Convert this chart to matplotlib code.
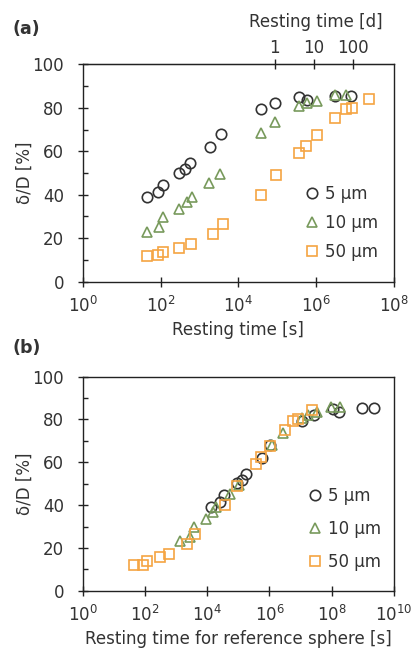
import numpy as np
import matplotlib
matplotlib.use("Agg")
import matplotlib.pyplot as plt
from matplotlib import ticker

# ---------------- data ----------------
sizes = ["5 µm", "10 µm", "50 µm"]

# panel (a): resting time [s] and delta/D [%]
t_5 = [44, 88, 118, 304, 427, 573, 1870, 3550, 37600, 87900, 3.7e5, 5.7e5, 3.06e6, 7.8e6]
v_5 = [39.1, 41.4, 44.5, 50.1, 51.7, 54.5, 62.1, 67.9, 79.3, 82.3, 85.1, 83.6, 85.4, 85.4]

t_10 = [44, 93, 118, 300, 490, 630, 1780, 3400, 37600, 87900, 3.7e5, 5.7e5, 1.07e6, 3.06e6, 5.9e6]
v_10 = [23.0, 25.3, 29.9, 33.3, 36.8, 39.1, 45.3, 49.5, 68.3, 73.6, 80.8, 82.3, 83.3, 85.7, 86.0]

t_50 = [44, 88, 118, 300, 600, 2200, 4000, 37600, 93000, 3.7e5, 5.5e5, 1.07e6, 3.06e6, 5.75e6, 8.5e6, 2.3e7]
v_50 = [11.8, 12.1, 13.8, 15.6, 17.2, 21.8, 26.5, 39.9, 49.1, 59.3, 62.6, 67.5, 75.2, 79.3, 80.0, 84.2]

# time-scaling factors to the reference sphere (panel b)
ref_factor = [300, 31, 1]

day_ticks = [1, 10, 100]
xticks_a = [1e0, 1e2, 1e4, 1e6, 1e8]
xticks_b = [1e0, 1e2, 1e4, 1e6, 1e8, 1e10]
yticks = [0, 20, 40, 60, 80, 100]

# ---------------- style ----------------
colors = ["#333333", "#789a5c", "#f5a442"]
markers = ["o", "^", "s"]
txt = "#333333"
plt.rcParams["font.family"] = ["DejaVu Sans"]
plt.rcParams["font.size"] = 12
plt.rcParams["text.color"] = txt
plt.rcParams["axes.labelcolor"] = txt
plt.rcParams["xtick.color"] = "#222222"
plt.rcParams["ytick.color"] = "#222222"
plt.rcParams["xtick.labelcolor"] = txt
plt.rcParams["ytick.labelcolor"] = txt

fig = plt.figure(figsize=(4.2, 6.48), dpi=100)
axa = fig.add_axes([0.197, 0.5653, 0.741, 0.3355])
axb = fig.add_axes([0.197, 0.0884, 0.741, 0.3303])

fmt = ticker.FuncFormatter(lambda v, p: r"$10^{%d}$" % int(round(np.log10(v))))

def style(ax, xt, xmax):
    ax.set_xscale("log")
    ax.set_xlim(1, xmax)
    ax.set_ylim(0, 100)
    ax.xaxis.set_major_locator(ticker.FixedLocator(xt))
    ax.xaxis.set_major_formatter(fmt)
    ax.xaxis.set_minor_locator(ticker.NullLocator())
    ax.yaxis.set_major_locator(ticker.FixedLocator(yticks))
    ax.yaxis.set_minor_locator(ticker.FixedLocator([10, 30, 50, 70, 90]))
    ax.tick_params(which="major", direction="inout", length=7, width=1.0, labelsize=12)
    ax.tick_params(axis="y", which="major", pad=10)
    ax.tick_params(axis="x", which="major", pad=7)
    ax.tick_params(which="minor", direction="in", length=3.5, width=1.0)
    for s in ax.spines.values():
        s.set_linewidth(1.0)
        s.set_color("#222222")
    ax.set_ylabel("δ/D [%]", fontsize=12, labelpad=-1)

style(axa, xticks_a, 1e8)
style(axb, xticks_b, 1e10)

ts = [t_5, t_10, t_50]
vs = [v_5, v_10, v_50]
for i in range(3):
    axa.plot(ts[i], vs[i], linestyle="none", marker=markers[i], markersize=7.5,
             markerfacecolor="none", markeredgecolor=colors[i], markeredgewidth=1.2,
             label=sizes[i])
    tref = np.array(ts[i]) * ref_factor[i]
    axb.plot(tref, vs[i], linestyle="none", marker=markers[i], markersize=7.5,
             markerfacecolor="none", markeredgecolor=colors[i], markeredgewidth=1.2,
             label=sizes[i])

for ax, anchor, ls in [(axa, (0.709, 0.27), 0.68), (axb, (0.719, 0.29), 0.9)]:
    ax.legend(loc="center left", bbox_to_anchor=anchor, frameon=False, fontsize=12,
              handlelength=1.0, handletextpad=0.3, borderpad=0, borderaxespad=0,
              labelspacing=ls, numpoints=1)

axa.set_xlabel("Resting time [s]", fontsize=12, labelpad=3)
axb.set_xlabel("Resting time for reference sphere [s]", fontsize=12, labelpad=3)

sec = axa.secondary_xaxis("top", functions=(lambda s: s / 86400.0, lambda d: d * 86400.0))
sec.xaxis.set_major_locator(ticker.FixedLocator(day_ticks))
sec.xaxis.set_major_formatter(ticker.FixedFormatter([str(d) for d in day_ticks]))
sec.xaxis.set_minor_locator(ticker.NullLocator())
sec.tick_params(which="major", direction="inout", length=7, width=1.0, labelsize=12, pad=2)
sec.set_xlabel("Resting time [d]", fontsize=12)
sec.xaxis.set_label_coords(0.75, 1.195, transform=axa.transAxes)
sec.xaxis.label.set_verticalalignment("center")

fig.text(0.03, 0.956, "(a)", fontsize=12.5, fontweight="bold", color=txt, va="center")
fig.text(0.03, 0.463, "(b)", fontsize=12.5, fontweight="bold", color=txt, va="center")

fig.savefig("out.png", dpi=100)
